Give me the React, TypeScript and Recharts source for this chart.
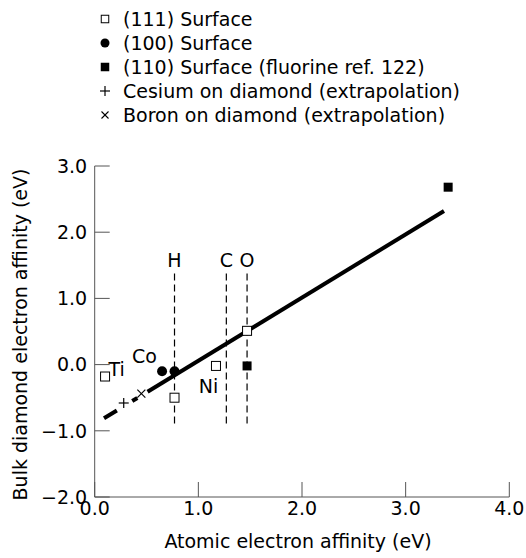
import {
  ComposedChart,
  Scatter,
  Line,
  XAxis,
  YAxis,
  ReferenceLine,
  Legend,
} from "recharts";

// (111) surface, open squares
const surface111 = [
  { x: 0.1, y: -0.18 },
  { x: 0.77, y: -0.5 },
  { x: 1.17, y: -0.02 },
  { x: 1.47, y: 0.51 },
];
// (100) surface, filled circles
const surface100 = [
  { x: 0.65, y: -0.1 },
  { x: 0.77, y: -0.1 },
];
// (110) surface, filled squares
const surface110 = [
  { x: 1.47, y: -0.02 },
  { x: 3.41, y: 2.68 },
];
const cesium = [{ x: 0.28, y: -0.58 }];
const boron = [{ x: 0.45, y: -0.44 }];

// fitted line: extrapolated part and solid part
const fitExtrap = [
  { x: 0.09, y: -0.81 },
  { x: 0.51, y: -0.41 },
];
const fitSolid = [
  { x: 0.51, y: -0.41 },
  { x: 3.37, y: 2.32 },
];

// atomic electron affinities of adsorbates
const elementNames = ["H", "C", "O"];
const elementX = [0.77, 1.27, 1.47];
const elementYRange = [-0.89, 1.4];

const pointLabels = [
  { text: "Ti", x: 0.1, y: -0.18 },
  { text: "Co", x: 0.65, y: -0.1 },
  { text: "Ni", x: 1.17, y: -0.02 },
];

const xTicks = [0, 1, 2, 3, 4];
const yTicks = [-2, -1, 0, 1, 2, 3];

const legendNames = [
  "(111) Surface",
  "(100) Surface",
  "(110) Surface (fluorine ref. 122)",
  "Cesium on diamond (extrapolation)",
  "Boron on diamond (extrapolation)",
];

const FONT = "'DejaVu Sans', Arial, sans-serif";
const FS = 19;
const AXIS = "#555";

// label offsets (text centre relative to point)
const labelPlace: Record<string, { dx: number; dy: number; anchor: string }> = {
  Ti: { dx: 3.5, dy: -7.7, anchor: "start" },
  Co: { dx: -17.7, dy: -15.7, anchor: "middle" },
  Ni: { dx: -7.4, dy: 20.3, anchor: "middle" },
};

const fmt = (v: number) => v.toFixed(1).replace("-", "\u2212");

function OpenSquare({ cx, cy, s = 9 }: any) {
  return (
    <rect x={cx - s / 2} y={cy - s / 2} width={s} height={s} fill="#fff" stroke="#000" strokeWidth={1} />
  );
}
function FilledSquare({ cx, cy, s = 9 }: any) {
  return <rect x={cx - s / 2} y={cy - s / 2} width={s} height={s} fill="#000" />;
}
function Dot({ cx, cy, r = 5 }: any) {
  return <circle cx={cx} cy={cy} r={r} fill="#000" />;
}
function Plus({ cx, cy, s = 10 }: any) {
  return (
    <g stroke="#000" strokeWidth={1.2}>
      <line x1={cx - s / 2} y1={cy} x2={cx + s / 2} y2={cy} />
      <line x1={cx} y1={cy - s / 2} x2={cx} y2={cy + s / 2} />
    </g>
  );
}
function Cross({ cx, cy, s = 8 }: any) {
  return (
    <g stroke="#000" strokeWidth={1.1}>
      <line x1={cx - s / 2} y1={cy - s / 2} x2={cx + s / 2} y2={cy + s / 2} />
      <line x1={cx - s / 2} y1={cy + s / 2} x2={cx + s / 2} y2={cy - s / 2} />
    </g>
  );
}

const legendMarkers = [
  (cx: number, cy: number) => <OpenSquare cx={cx} cy={cy} s={7.5} />,
  (cx: number, cy: number) => <Dot cx={cx} cy={cy} r={4.5} />,
  (cx: number, cy: number) => <FilledSquare cx={cx} cy={cy} s={8.5} />,
  (cx: number, cy: number) => <Plus cx={cx} cy={cy} s={10} />,
  (cx: number, cy: number) => <Cross cx={cx} cy={cy} s={7} />,
];

function renderLegend() {
  return (
    <svg width={526} height={130} style={{ display: "block" }}>
      {legendNames.map((name, i) => {
        const cy = 19 + i * 24;
        return (
          <g key={name}>
            {legendMarkers[i](105, cy)}
            <text x={123} y={cy + 7} fontSize={FS} fontFamily={FONT} fill="#000">
              {name}
            </text>
          </g>
        );
      })}
    </svg>
  );
}

function PointLabel(props: any) {
  const { cx, cy, payload } = props;
  const p = labelPlace[payload.text];
  return (
    <text
      x={cx + p.dx}
      y={cy + p.dy + 7}
      textAnchor={p.anchor}
      fontSize={FS}
      fontFamily={FONT}
      fill="#000"
    >
      {payload.text}
    </text>
  );
}

const tickStyle = { fill: "#000", fontSize: FS, fontFamily: FONT };

export default function App() {
  return (
    <div style={{ position: "absolute", left: 0, top: 0, width: 526, height: 558, background: "#fff" }}>
      <ComposedChart width={526} height={558} margin={{ top: 166, right: 16.7, bottom: 0, left: 0 }}>
        <XAxis
          type="number"
          dataKey="x"
          domain={[0, 4]}
          ticks={xTicks}
          tickFormatter={fmt}
          height={61}
          tickSize={-15}
          tickMargin={20}
          stroke={AXIS}
          tick={tickStyle}
          interval={0}
          label={{
            content: ({ viewBox }: any) => (
              <text
                x={viewBox.x + viewBox.width / 2 - 4}
                y={viewBox.y + 51}
                textAnchor="middle"
                fontSize={FS}
                fontFamily={FONT}
                fill="#000"
              >
                Atomic electron affinity (eV)
              </text>
            ),
          }}
        />
        <YAxis
          type="number"
          dataKey="y"
          domain={[-2, 3]}
          ticks={yTicks}
          tickFormatter={fmt}
          width={94.7}
          tickSize={-15}
          tickMargin={22.5}
          stroke={AXIS}
          tick={tickStyle}
          interval={0}
          label={{
            content: ({ viewBox }: any) => {
              const cy = viewBox.y + viewBox.height / 2 + 3;
              return (
                <text
                  x={20}
                  y={cy}
                  transform={`rotate(-90, 20, ${cy})`}
                  textAnchor="middle"
                  dominantBaseline="central"
                  fontSize={FS}
                  fontFamily={FONT}
                  fill="#000"
                >
                  Bulk diamond electron affinity (eV)
                </text>
              );
            },
          }}
        />
        <Legend
          layout="vertical"
          align="center"
          verticalAlign="middle"
          content={renderLegend}
          wrapperStyle={{ top: 0, left: 0, width: 526, height: 130 }}
        />
        {elementNames.map((name, i) => (
          <ReferenceLine
            key={name}
            segment={[
              { x: elementX[i], y: elementYRange[0] },
              { x: elementX[i], y: elementYRange[1] },
            ]}
            stroke="#000"
            strokeWidth={1.2}
            strokeDasharray="7 4"
            label={{
              value: name,
              position: "top",
              offset: 5,
              fill: "#000",
              fontSize: FS,
              fontFamily: FONT,
            }}
          />
        ))}
        <Line
          data={fitExtrap}
          dataKey="y"
          stroke="#000"
          strokeWidth={4}
          strokeDasharray="15 18 6 13"
          dot={false}
          activeDot={false}
          isAnimationActive={false}
          legendType="none"
        />
        <Line
          data={fitSolid}
          dataKey="y"
          stroke="#000"
          strokeWidth={4}
          dot={false}
          activeDot={false}
          isAnimationActive={false}
          legendType="none"
        />
        <Scatter name="(111) Surface" data={surface111} shape={OpenSquare} isAnimationActive={false} />
        <Scatter name="(100) Surface" data={surface100} shape={Dot} isAnimationActive={false} />
        <Scatter name="(110) Surface" data={surface110} shape={FilledSquare} isAnimationActive={false} />
        <Scatter name="Cesium" data={cesium} shape={Plus} isAnimationActive={false} />
        <Scatter name="Boron" data={boron} shape={Cross} isAnimationActive={false} />
        <Scatter data={pointLabels} shape={PointLabel} isAnimationActive={false} legendType="none" />
      </ComposedChart>
    </div>
  );
}
